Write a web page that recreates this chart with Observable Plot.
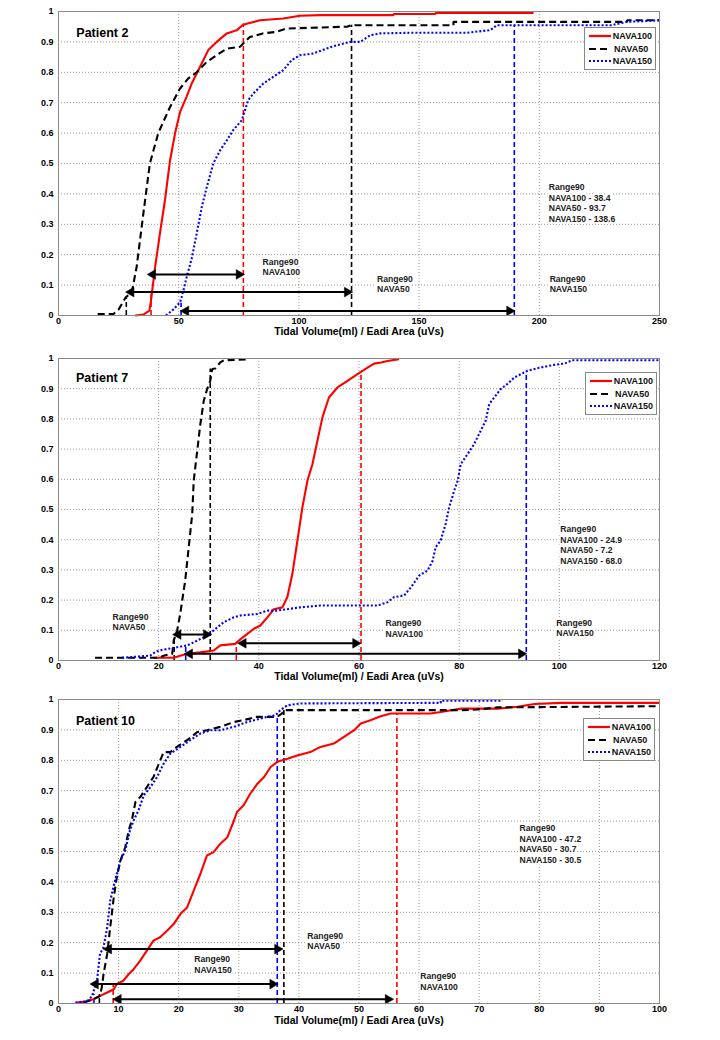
<!DOCTYPE html>
<html><head><meta charset="utf-8">
<script src="https://cdn.jsdelivr.net/npm/d3@7"></script>
<script src="https://cdn.jsdelivr.net/npm/@observablehq/plot@0.6"></script>
<style>
body{margin:0;background:#fff;font-family:"Liberation Sans",Arial,sans-serif;}
.panel{position:relative;width:720px;}
.panel svg{display:block;}
.legend{position:absolute;background:#fff;border:1px solid #888;font:bold 9px "Liberation Sans",Arial,sans-serif;color:#111;padding:2px 3px 1px 3px;box-sizing:border-box;}
.legend .row{display:flex;align-items:center;height:12.5px;}
.legend svg{margin-right:2px;}
</style></head><body><div id="chart"></div><script>
// ---------- data ----------
const seriesNames = ["NAVA100", "NAVA50", "NAVA150"];
const yTicks = [0, 0.1, 0.2, 0.3, 0.4, 0.5, 0.6, 0.7, 0.8, 0.9, 1];
const xLabel = "Tidal Volume(ml) / Eadi Area (uVs)";

// Patient 2
const p2_xTicks = [0, 50, 100, 150, 200, 250];
const p2_nava100 = [[31.9,0],[35.3,0.003],[37.8,0.016],[38.5,0.05],[38.8,0.07],[40.2,0.16],[42.2,0.27],[44.3,0.38],[46.4,0.51],[48.5,0.6],[50.6,0.67],[53.3,0.72],[55.4,0.763],[57.5,0.796],[59.6,0.83],[62.3,0.873],[65.8,0.9],[70,0.928],[74.1,0.938],[76.5,0.955],[78.3,0.96],[83.8,0.971],[93.5,0.977],[100.4,0.986],[108.7,0.988],[139.4,0.988],[139.4,0.992],[156.8,0.992],[156.8,0.995],[197.6,0.995]];
const p2_nava50 = [[16.3,0.005],[22.9,0.005],[25,0.02],[28,0.06],[30.5,0.077],[32.5,0.16],[35.3,0.335],[38,0.5],[41.5,0.6],[46.4,0.686],[50.5,0.746],[54,0.78],[57.5,0.8],[61.6,0.834],[65.8,0.856],[70,0.878],[75.5,0.884],[78.3,0.906],[79.6,0.916],[85,0.928],[90.7,0.933],[94.9,0.944],[120,0.95],[122,0.955],[164.3,0.955],[164.3,0.966],[236.5,0.966],[236.5,0.971],[250,0.971]];
const p2_nava150 = [[44.7,0],[47.8,0.02],[50.6,0.044],[51.9,0.08],[53.3,0.126],[55.4,0.187],[57.5,0.27],[59.6,0.357],[61.6,0.42],[64.4,0.5],[67.2,0.543],[70,0.576],[72.7,0.61],[76.2,0.642],[78.9,0.708],[81,0.73],[85.2,0.763],[89.3,0.785],[93.5,0.807],[97,0.84],[100.4,0.856],[106,0.862],[111.5,0.878],[115.7,0.889],[121.2,0.9],[125.5,0.9],[129.7,0.922],[133.8,0.928],[146.3,0.93],[169.9,0.93],[179.7,0.939],[182.4,0.955],[230,0.955],[236.5,0.966],[250,0.971]];
// [lo, loTop, hi, hiTop, arrowY, arrowX1, arrowX2] per series
const p2_ranges = [[38.5,0.07,76.9,0.96,0.135,38.8,75.5],[28.2,0.06,121.9,0.955,0.077,29.8,120.5],[51.0,0.04,189.6,0.955,0.015,52.6,188.0]];
const p2_notes = [[84.9,0.192,"Range90\nNAVA100"],[132.5,0.135,"Range90\nNAVA50"],[204.3,0.135,"Range90\nNAVA150"],[203.9,0.436,"Range90\nNAVA100 - 38.4\nNAVA50 - 93.7\nNAVA150 - 138.6"]];
const p2_title = [[7.4,0.945,"Patient 2"]];

// Patient 7
const p7_xTicks = [0, 20, 40, 60, 80, 100, 120];
const p7_nava100 = [[19,0.009],[23,0.009],[24.3,0.016],[25.7,0.022],[28.3,0.027],[31,0.033],[32.3,0.05],[35.3,0.055],[36.3,0.07],[37.7,0.088],[39,0.105],[40.3,0.116],[41.7,0.143],[43,0.17],[44.7,0.176],[45.7,0.21],[46.7,0.287],[47.7,0.397],[48.7,0.507],[49.7,0.595],[50.7,0.65],[51.7,0.728],[52.7,0.805],[54,0.871],[55.7,0.904],[57.7,0.926],[59.7,0.948],[61.7,0.97],[63,0.983],[64.4,0.987],[65.7,0.992],[68,0.998]];
const p7_nava50 = [[7.3,0.009],[20,0.009],[21,0.016],[22.7,0.022],[23,0.066],[23.7,0.1],[24.3,0.154],[25.3,0.265],[26,0.375],[26.7,0.485],[27,0.595],[27.7,0.695],[28.3,0.78],[29,0.86],[29.7,0.9],[30.3,0.926],[30.7,0.965],[31.3,0.967],[32.3,0.987],[33,0.994],[37.7,0.997]];
const p7_nava150 = [[12.7,0.009],[18.3,0.016],[18.7,0.022],[20,0.033],[23.7,0.044],[25.7,0.05],[27,0.06],[29,0.077],[31,0.1],[33,0.127],[35,0.143],[36.3,0.149],[39.7,0.154],[41.7,0.165],[43.5,0.165],[48.3,0.176],[52.3,0.182],[63.7,0.182],[65.7,0.193],[67,0.21],[69,0.215],[70.4,0.243],[72,0.281],[73.7,0.298],[74.7,0.33],[75.3,0.375],[76.3,0.397],[77.3,0.452],[78,0.507],[79,0.562],[79.7,0.595],[80.3,0.65],[81.7,0.684],[83,0.717],[84.3,0.761],[85.3,0.794],[86,0.849],[87,0.871],[88.3,0.899],[89.6,0.915],[91,0.937],[92.3,0.948],[93.6,0.959],[95.6,0.968],[99,0.979],[101,0.983],[102.6,0.994],[120,0.994]];
const p7_ranges = [[35.5,0.055,60.4,0.95,0.057,36.7,59.5],[23.1,0.066,30.3,0.965,0.086,23.7,29.7],[25.4,0.05,93.4,0.955,0.022,26.0,92.6]];
const p7_notes = [[10.8,0.16,"Range90\nNAVA50"],[65.3,0.138,"Range90\nNAVA100"],[99.4,0.14,"Range90\nNAVA150"],[100.2,0.449,"Range90\nNAVA100 - 24.9\nNAVA50 - 7.2\nNAVA150 - 68.0"]];
const p7_title = [[3.5,0.953,"Patient 7"]];

// Patient 10
const p10_xTicks = [0, 10, 20, 30, 40, 50, 60, 70, 80, 90, 100];
const p10_nava100 = [[3.1,0.003],[4.7,0.007],[5.8,0.014],[6.9,0.025],[8.1,0.036],[9.2,0.047],[9.7,0.064],[10.8,0.075],[11.7,0.097],[12.5,0.113],[13.6,0.141],[14.7,0.174],[15.8,0.207],[16.9,0.218],[18.1,0.24],[19.2,0.262],[20.3,0.295],[21.4,0.316],[22.5,0.371],[23.6,0.426],[24.7,0.487],[25.8,0.498],[26.9,0.525],[28.1,0.547],[29.2,0.602],[29.7,0.63],[30.8,0.652],[31.9,0.69],[33.1,0.723],[34.2,0.745],[35.3,0.778],[36.4,0.795],[38.1,0.805],[39.7,0.816],[41.9,0.827],[43.6,0.844],[45.8,0.855],[47.5,0.877],[49.2,0.899],[50.3,0.921],[51.9,0.932],[53.6,0.945],[55.3,0.954],[61.9,0.954],[63.6,0.959],[67,0.97],[73,0.97],[76.4,0.976],[79.2,0.985],[83.6,0.989],[100,0.989]];
const p10_nava50 = [[4.2,0.003],[5.8,0.014],[6.9,0.025],[7.2,0.053],[7.5,0.097],[8.1,0.163],[8.6,0.25],[9.2,0.35],[9.7,0.415],[10.3,0.47],[11.1,0.514],[11.7,0.57],[12.2,0.602],[12.8,0.663],[13.6,0.679],[14.7,0.712],[15.8,0.745],[16.7,0.789],[17.5,0.827],[18.6,0.827],[19.7,0.844],[21.4,0.866],[23.1,0.893],[24.7,0.899],[26.9,0.91],[29.2,0.926],[31.9,0.937],[32.5,0.943],[36.4,0.943],[37.2,0.954],[37.5,0.965],[67,0.965],[69.7,0.967],[73,0.974],[100,0.978]];
const p10_nava150 = [[2.8,0.003],[4.4,0.006],[5,0.011],[5.6,0.025],[6.4,0.075],[6.9,0.163],[7.5,0.185],[8.1,0.25],[8.6,0.338],[9.4,0.404],[10.3,0.47],[11.1,0.503],[11.9,0.57],[12.5,0.602],[13.3,0.635],[14.2,0.685],[15.3,0.712],[16.4,0.745],[17.5,0.789],[18.6,0.822],[20.3,0.844],[21.9,0.866],[23.6,0.888],[25.3,0.899],[26.9,0.899],[29.2,0.91],[31.4,0.926],[34.7,0.943],[36.1,0.948],[36.9,0.965],[38.1,0.981],[40.3,0.987],[63.6,0.989],[63.6,0.996],[73.9,0.996]];
const p10_ranges = [[9.1,0.06,56.3,0.954,0.014,9.8,55.0],[6.8,0.03,37.5,0.965,0.179,8.2,36.6],[5.9,0.03,36.4,0.948,0.064,6.0,35.8]];
const p10_notes = [[41.4,0.237,"Range90\nNAVA50"],[22.6,0.16,"Range90\nNAVA150"],[60.2,0.105,"Range90\nNAVA100"],[76.7,0.591,"Range90\nNAVA100 - 47.2\nNAVA50 - 30.7\nNAVA150 - 30.5"]];
const p10_title = [[2.9,0.945,"Patient 10"]];

// ---------- styles ----------
const colors = ["#ff0000", "#000000", "#0000ff"];
const dashes = [null, "7,4", "2,2"];

function panel(cfg) {
  const marks = [
    Plot.gridX(cfg.xTicks, {stroke: "#9a9a9a", strokeOpacity: 1, strokeDasharray: "1,2"}),
    Plot.gridY(yTicks, {stroke: "#9a9a9a", strokeOpacity: 1, strokeDasharray: "1,2"}),
    Plot.axisX(cfg.xTicks, {tickSize: 0, tickPadding: 2, fontSize: 9, fontWeight: "bold", label: null}),
    Plot.axisY(yTicks, {tickSize: 0, tickPadding: 5, fontSize: 9, fontWeight: "bold", label: null,
      tickFormat: d => (d === 0 || d === 1) ? String(d) : d.toFixed(1)}),
  ];
  // text labels (with white halo, hiding grid)
  marks.push(Plot.text(cfg.notes, {x: d => d[0], y: d => d[1], text: d => d[2], textAnchor: "start", lineAnchor: "top",
    lineHeight: 1.22, fontSize: 8.6, fontWeight: "bold", fill: "#222", stroke: "white", strokeWidth: 4}));
  cfg.series.forEach((s, i) => {
    const r = cfg.ranges[i];
    marks.push(Plot.ruleX([r], {x: d => d[0], y1: 0, y2: d => d[1], stroke: colors[i], strokeWidth: 1.6, strokeDasharray: "5,3"}));
    marks.push(Plot.ruleX([r], {x: d => d[2], y1: 0, y2: d => d[3], stroke: colors[i], strokeWidth: 1.6, strokeDasharray: "5,3"}));
  });
  cfg.series.forEach((s, i) => {
    marks.push(Plot.line(s, {x: d => d[0], y: d => d[1], stroke: colors[i], strokeWidth: 2.1,
      strokeDasharray: dashes[i], strokeLinecap: "butt", strokeLinejoin: "miter"}));
  });
  cfg.ranges.forEach((r) => {
    marks.push(Plot.link([r], {x1: d => d[5], x2: d => d[6], y1: d => d[4], y2: d => d[4], stroke: "#000", strokeWidth: 2}));
    marks.push(Plot.dot([r], {x: d => d[5], y: d => d[4], symbol: "triangle", rotate: -90, r: 3.6, fill: "#000", stroke: "#000", strokeWidth: 0.5, dx: 1}));
    marks.push(Plot.dot([r], {x: d => d[6], y: d => d[4], symbol: "triangle", rotate: 90, r: 3.6, fill: "#000", stroke: "#000", strokeWidth: 0.5, dx: -1}));
  });
  marks.push(Plot.text(cfg.title, {x: d => d[0], y: d => d[1], text: d => d[2], textAnchor: "start", lineAnchor: "top",
    fontSize: 12.5, fontWeight: "bold", fill: "#000"}));
  marks.push(Plot.text([xLabel], {frameAnchor: "bottom", dy: cfg.labelDy, fontSize: 10.5, fontWeight: "bold", fill: "#000"}));
  marks.push(Plot.frame({stroke: "#8a8a8a"}));

  const svg = Plot.plot({
    width: 720, height: cfg.height,
    marginLeft: 58, marginRight: 61, marginTop: cfg.mt, marginBottom: cfg.mb,
    style: {fontFamily: "'Liberation Sans', Arial, sans-serif", background: "#fff", color: "#000"},
    x: {domain: cfg.xDomain},
    y: {domain: [0, 1]},
    marks
  });
  const div = document.createElement("div");
  div.className = "panel";
  div.appendChild(svg);
  // legend
  const lg = document.createElement("div");
  lg.className = "legend";
  lg.style.left = cfg.legend[0] + "px"; lg.style.top = cfg.legend[1] + "px";
  lg.style.width = "72px"; lg.style.height = "43px";
  seriesNames.forEach((n, i) => {
    const row = document.createElement("div"); row.className = "row";
    row.innerHTML = `<svg width="24" height="6"><line x1="1" x2="23" y1="3" y2="3" stroke="${colors[i]}" stroke-width="2.2" ${dashes[i] ? `stroke-dasharray="${dashes[i]}"` : ""}/></svg><span>${n}</span>`;
    lg.appendChild(row);
  });
  div.appendChild(lg);
  return div;
}

const chart = document.getElementById("chart");
chart.appendChild(panel({series: [p2_nava100, p2_nava50, p2_nava150], ranges: p2_ranges, notes: p2_notes, title: p2_title,
  xTicks: p2_xTicks, xDomain: [0, 250], height: 340, mt: 11, mb: 25, labelDy: 19.5, legend: [584, 27]}));
chart.appendChild(panel({series: [p7_nava100, p7_nava50, p7_nava150], ranges: p7_ranges, notes: p7_notes, title: p7_title,
  xTicks: p7_xTicks, xDomain: [0, 120], height: 350, mt: 18, mb: 30, labelDy: 19, legend: [585, 32]}));
chart.appendChild(panel({series: [p10_nava100, p10_nava50, p10_nava150], ranges: p10_ranges, notes: p10_notes, title: p10_title,
  xTicks: p10_xTicks, xDomain: [0, 100], height: 350, mt: 9, mb: 37, labelDy: 20, legend: [583, 28]}));
</script></body></html>
